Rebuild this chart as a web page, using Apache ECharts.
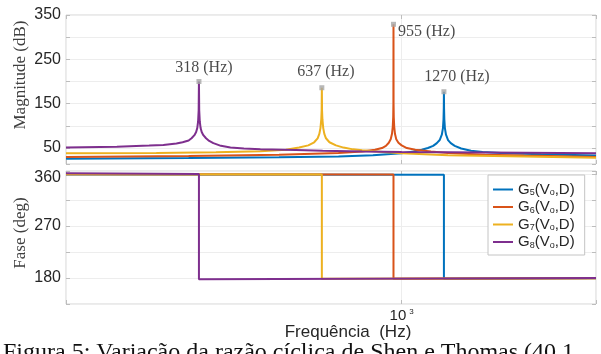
<!DOCTYPE html>
<html><head><meta charset="utf-8">
<script src="https://cdn.jsdelivr.net/npm/echarts@6/dist/echarts.min.js"></script>
<style>html,body{margin:0;padding:0;background:#fff}#c{width:601px;height:354px}</style>
</head><body><div id="c"></div>
<script>
// ---------------- data ----------------
const seriesNames = ['G5', 'G6', 'G7', 'G8'];
const legendSub = ['5', '6', '7', '8'];

const g5Freq = [150, 300, 500, 700, 850, 1000, 1070, 1120, 1160, 1195, 1220, 1240, 1255, 1263, 1267, 1269, 1270, 1271, 1273, 1277, 1285, 1300, 1320, 1350, 1400, 1480, 1580, 1800, 2200, 3000];
const g5Mag  = [26, 27.5, 29, 31, 34, 38, 42, 46, 50, 55, 61, 68, 80, 95, 115, 140, 177, 140, 115, 95, 80, 68, 61, 55, 49, 44, 41, 38, 36, 33];

const g6Freq = [150, 300, 500, 700, 800, 860, 895, 915, 930, 940, 947, 951, 953.5, 954.5, 955, 955.5, 956.5, 959, 963, 970, 982, 1000, 1030, 1080, 1180, 1300, 1600, 2000, 3000];
const g6Mag  = [30, 32, 35, 39, 42, 46, 50, 55, 62, 70, 82, 98, 120, 150, 329, 150, 120, 98, 82, 70, 62, 56, 50, 46, 42, 39, 35, 33, 30];

const g7Freq = [150, 250, 350, 450, 520, 560, 590, 610, 622, 628, 632, 635, 636.3, 637, 637.7, 639, 642, 646, 652, 665, 690, 720, 760, 800, 900, 1000, 1300, 2000, 3000];
const g7Mag  = [38, 39, 40.5, 42.5, 46, 51, 56, 63, 72, 82, 95, 115, 135, 186, 135, 115, 95, 82, 72, 63, 56, 51, 47, 45, 41, 38, 34, 31, 28];

const g8Freq = [150, 200, 240, 260, 280, 290, 300, 305, 310, 313, 315, 316.5, 317.5, 318, 318.5, 319.5, 321, 323, 326, 331, 337, 345, 360, 380, 410, 450, 550, 640, 800, 1000, 1300, 2000, 3000];
const g8Mag  = [51, 53, 55.5, 57, 60, 63, 67, 72, 79, 86, 95, 110, 135, 200, 135, 110, 95, 86, 79, 72, 66, 61, 55, 51, 49, 47, 45.5, 44, 42, 41, 40.5, 39.5, 38];

const g5PhaseFreq = [150, 1270, 1270, 3000];
const g5Phase     = [359, 358.5, 178.5, 179.5];
const g6PhaseFreq = [150, 955, 955, 3000];
const g6Phase     = [359.5, 359, 178.5, 179.5];
const g7PhaseFreq = [150, 637, 637, 3000];
const g7Phase     = [359.5, 359, 178.5, 179.5];
const g8PhaseFreq = [150, 318, 318, 3000];
const g8Phase     = [361, 360, 178, 180];

const peakFreqs  = [318, 637, 955, 1270];
const peakMags   = [200, 186, 329, 177];
const peakLabels = ['318 (Hz)', '637 (Hz)', '955 (Hz)', '1270 (Hz)'];

const magTickLabels   = [50, 150, 250, 350];
const phaseTickLabels = [180, 270, 360];

// ---------------- styles ----------------
const colors = ['#0072BD', '#D95319', '#EDB120', '#7E2F8E'];
const sans = 'Liberation Sans';
const serif = 'Liberation Serif';
const txt = '#262626';
const gridCol = '#ededed';
const frameCol = '#d4d4d4';

const magF = [g5Freq, g6Freq, g7Freq, g8Freq];
const magV = [g5Mag, g6Mag, g7Mag, g8Mag];
const phF = [g5PhaseFreq, g6PhaseFreq, g7PhaseFreq, g8PhaseFreq];
const phV = [g5Phase, g6Phase, g7Phase, g8Phase];
const zip = (a, b) => a.map((x, i) => [x, b[i]]);

const peakLabelStyle = [
  {position: 'top', offset: [5, 0]},
  {position: 'top', offset: [4, -2]},
  {position: 'right', offset: [-1, 7]},
  {position: 'top', offset: [13, -1]}
];

const series = [];
seriesNames.forEach((n, i) => {
  series.push({
    name: n, type: 'line', xAxisIndex: 0, yAxisIndex: 0,
    data: zip(magF[i], magV[i]), showSymbol: false, symbol: 'none',
    lineStyle: {width: 2, color: colors[i]}, itemStyle: {color: colors[i]}, z: 3 + i
  });
});
seriesNames.forEach((n, i) => {
  series.push({
    name: n, type: 'line', xAxisIndex: 1, yAxisIndex: 1,
    data: zip(phF[i], phV[i]), showSymbol: false, symbol: 'none',
    lineStyle: {width: 2, color: colors[i]}, itemStyle: {color: colors[i]}, z: 3 + i
  });
});
series.push({
  type: 'scatter', xAxisIndex: 0, yAxisIndex: 0, symbol: 'rect', symbolSize: 5,
  itemStyle: {color: '#a6a6a6'}, z: 10,
  data: peakFreqs.map((f, i) => ({
    value: [f, peakMags[i]],
    label: Object.assign({show: true, formatter: peakLabels[i], fontFamily: serif, fontSize: 16, color: '#1a1a1a', distance: 3}, peakLabelStyle[i])
  }))
});

const logX = (grid, showLabel, pos) => ({
  type: 'log', gridIndex: grid, min: 150, max: 3000, logBase: 10, position: pos,
  axisLine: {show: false},
  axisTick: {show: true, inside: true, length: 4, lineStyle: {color: '#bdbdbd'}},
  splitLine: {show: pos !== 'top', lineStyle: {color: gridCol}},
  axisLabel: showLabel ? {
    show: true, margin: 4, color: txt, fontFamily: sans,
    formatter: v => Math.abs(v - 1000) < 1 ? '{b|10}{p|3}' : '',
    rich: {b: {fontSize: 15, fontFamily: sans, color: txt}, p: {fontSize: 8, fontFamily: sans, color: txt, verticalAlign: 'top', padding: [0, 0, 0, 3]}}
  } : {show: false}
});

const magY = (pos, lab) => ({
  type: 'value', gridIndex: 0, min: 14, max: 350, splitNumber: 7, position: pos,
  axisLine: {show: false},
  axisTick: {show: true, inside: true, length: 4, lineStyle: {color: '#bdbdbd'}},
  splitLine: {show: lab, lineStyle: {color: gridCol}},
  axisLabel: lab ? {show: true, margin: 5, color: txt, fontFamily: sans, fontSize: 16,
    formatter: v => magTickLabels.indexOf(Math.round(v)) >= 0 && Math.abs(v - Math.round(v)) < 1e-6 ? String(Math.round(v)) : ''} : {show: false}
});
const phY = (pos, lab) => ({
  type: 'value', gridIndex: 1, min: 135, max: 365, interval: 45, position: pos,
  axisLine: {show: false},
  axisTick: {show: true, inside: true, length: 4, lineStyle: {color: '#bdbdbd'}},
  splitLine: {show: lab, lineStyle: {color: gridCol}},
  axisLabel: lab ? {show: true, margin: 5, color: txt, fontFamily: sans, fontSize: 16,
    formatter: v => {
      const r = Math.round(v);
      if (phaseTickLabels.indexOf(r) < 0 || Math.abs(v - r) > 1e-6) return '';
      return r === 360 ? '{t|360}' : String(r);
    },
    rich: {t: {fontSize: 16, fontFamily: sans, color: txt, padding: [7, 0, 0, 0]}}} : {show: false}
});

const rich = {
  g: {fontSize: 15, fontFamily: sans, color: txt, lineHeight: 16},
  s: {fontSize: 9, fontFamily: sans, color: txt, lineHeight: 10, verticalAlign: 'bottom'}
};

const option = {
  animation: false,
  backgroundColor: '#fff',
  grid: [
    {left: 66, right: 5, top: 15, height: 149, show: true, borderColor: frameCol, borderWidth: 1, backgroundColor: 'transparent'},
    {left: 66, right: 5, top: 171, height: 133, show: true, borderColor: frameCol, borderWidth: 1, backgroundColor: 'transparent'}
  ],
  xAxis: [logX(0, false, 'bottom'), logX(1, true, 'bottom'), logX(0, false, 'top'), logX(1, false, 'top')],
  yAxis: [magY('left', true), phY('left', true), magY('right', false), phY('right', false)],
  legend: {
    show: true, data: seriesNames, orient: 'vertical', left: 488, top: 175,
    icon: 'rect', itemWidth: 20, itemHeight: 2, itemGap: 2,
    padding: [7, 10, 5, 5], borderColor: '#c4c4c4', borderWidth: 1, backgroundColor: '#fff',
    selectedMode: false,
    textStyle: {fontFamily: sans, fontSize: 15, color: txt, rich: rich},
    formatter: n => '{g|G}{s|' + legendSub[seriesNames.indexOf(n)] + '}{g|(V}{s|o}{g|,D)}'
  },
  graphic: [
    {type: 'text', x: 21, y: 75, rotation: Math.PI / 2, style: {text: 'Magnitude (dB)', font: '17px "Liberation Serif"', fill: '#404040', textAlign: 'center', textVerticalAlign: 'middle'}},
    {type: 'text', x: 21, y: 233, rotation: Math.PI / 2, style: {text: 'Fase (deg)', font: '17px "Liberation Serif"', fill: '#404040', textAlign: 'center', textVerticalAlign: 'middle'}},
    {type: 'text', x: 348, y: 332, style: {text: 'Frequência  (Hz)', font: '17px "Liberation Sans"', fill: txt, textAlign: 'center', textVerticalAlign: 'middle'}},
    {type: 'text', x: 3, y: 341, style: {text: 'Figura 5: Variação da razão cíclica de Shen e Thomas (40.1', font: '24px "Liberation Serif"', fill: '#111', textAlign: 'left', textVerticalAlign: 'top'}}
  ],
  series: series
};

const chart = echarts.init(document.getElementById('c'), null, {renderer: 'canvas'});
chart.setOption(option);
</script></body></html>
